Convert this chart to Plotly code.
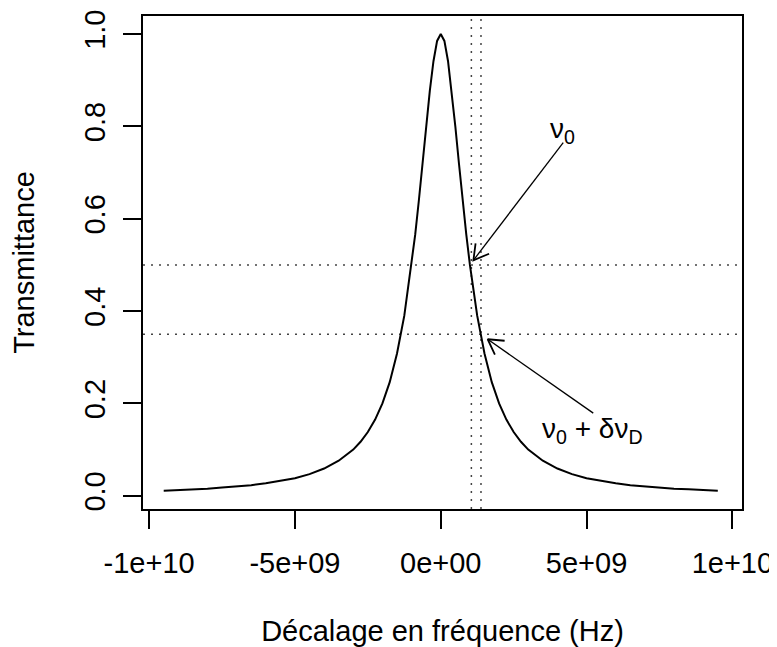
import math
import plotly.graph_objects as go

# ---- data (frequency offset in GHz, transmittance) ----
freq_offset_ghz = [-9.5, -9.0, -8.5, -8.0, -7.5, -7.0, -6.5, -6.0, -5.5, -5.0,
                   -4.5, -4.0, -3.5, -3.0, -2.75, -2.5, -2.25, -2.0, -1.75, -1.5,
                   -1.25, -1.0, -0.875, -0.75, -0.625, -0.5, -0.375, -0.25, -0.125, 0.0,
                   0.125, 0.25, 0.375, 0.5, 0.625, 0.75, 0.875, 1.0, 1.25, 1.5,
                   1.75, 2.0, 2.25, 2.5, 2.75, 3.0, 3.5, 4.0, 4.5, 5.0,
                   5.5, 6.0, 6.5, 7.0, 7.5, 8.0, 8.5, 9.0, 9.5]
transmittance = [0.011, 0.012, 0.014, 0.015, 0.018, 0.020, 0.023, 0.027, 0.032, 0.038,
                 0.047, 0.059, 0.076, 0.100, 0.117, 0.138, 0.165, 0.200, 0.246, 0.308,
                 0.390, 0.500, 0.566, 0.640, 0.719, 0.800, 0.877, 0.941, 0.985, 1.000,
                 0.985, 0.941, 0.877, 0.800, 0.719, 0.640, 0.566, 0.500, 0.390, 0.308,
                 0.246, 0.200, 0.165, 0.138, 0.117, 0.100, 0.076, 0.059, 0.047, 0.038,
                 0.032, 0.027, 0.023, 0.020, 0.018, 0.015, 0.014, 0.012, 0.011]

h_levels = [0.5, 0.35]
v_levels = [1.05e9, 1.38e9]

x_tickvals = [-1e10, -5e9, 0, 5e9, 1e10]
x_ticktext = ["-1e+10", "-5e+09", "0e+00", "5e+09", "1e+10"]
y_tickvals = [0.0, 0.2, 0.4, 0.6, 0.8, 1.0]
y_ticktext = ["0.0", "0.2", "0.4", "0.6", "0.8", "1.0"]

# arrows: (start x, start y, tip x, tip y)
arrows = [(4.2e9, 0.765, 1.12e9, 0.51),
          (5.23e9, 0.179, 1.61e9, 0.339)]
labels = [(4.19e9, 0.79, "ν<sub>0</sub>"),
          (5.19e9, 0.142, "ν<sub>0</sub> + δν<sub>D</sub>")]

# ---- layout geometry (page body adds an 8px offset) ----
W, H = 769, 639
ML, MR, MT, MB = 135, 35, 8, 138
xr = [-10.21e9, 10.33e9]
yr = [-0.0286, 1.039]
sx = (W - ML - MR) / (xr[1] - xr[0])
sy = (H - MT - MB) / (yr[1] - yr[0])

FONT = "Liberation Sans, Arial, sans-serif"
FS = 29

x_hz = [v * 1e9 for v in freq_offset_ghz]

fig = go.Figure()

dot = dict(color="#444", width=1.5, dash="2px,6px")
for lv in h_levels:
    fig.add_trace(go.Scatter(x=[xr[0], xr[1]], y=[lv, lv], mode="lines",
                             line=dot, hoverinfo="skip", showlegend=False))
for lv in v_levels:
    fig.add_trace(go.Scatter(x=[lv, lv], y=[yr[0], yr[1]], mode="lines",
                             line=dot, hoverinfo="skip", showlegend=False))

fig.add_trace(go.Scatter(x=x_hz, y=transmittance, mode="lines",
                         line=dict(color="black", width=2), showlegend=False))

# arrows with open V heads (R style)
HEAD = 17
ANG = math.radians(30)
for x0, y0, x1, y1 in arrows:
    fig.add_trace(go.Scatter(x=[x0, x1], y=[y0, y1], mode="lines",
                             line=dict(color="black", width=1.3), showlegend=False))
    dxp = (x0 - x1) * sx
    dyp = (y0 - y1) * sy
    n = math.hypot(dxp, dyp)
    ux, uy = dxp / n, dyp / n
    wings = []
    for a in (ANG, -ANG):
        rx = ux * math.cos(a) - uy * math.sin(a)
        ry = ux * math.sin(a) + uy * math.cos(a)
        wings.append((x1 + HEAD * rx / sx, y1 + HEAD * ry / sy))
    fig.add_trace(go.Scatter(x=[wings[0][0], x1, wings[1][0]],
                             y=[wings[0][1], y1, wings[1][1]], mode="lines",
                             line=dict(color="black", width=1.8), showlegend=False))

for lx, ly, txt in labels:
    fig.add_annotation(x=lx, y=ly, text=txt, showarrow=False,
                       font=dict(family=FONT, size=28, color="black"),
                       xanchor="center", yanchor="middle")

axis_common = dict(showline=True, linecolor="black", linewidth=1.8, mirror=True,
                   ticks="outside", ticklen=18, tickwidth=1.8, tickcolor="black",
                   showgrid=False, zeroline=False,
                   tickfont=dict(family=FONT, size=FS, color="black"))

fig.update_layout(
    width=W, height=H,
    margin=dict(l=ML, r=MR, t=MT, b=MB, autoexpand=False),
    paper_bgcolor="white", plot_bgcolor="white",
    xaxis=dict(range=xr, tickvals=x_tickvals, ticktext=x_ticktext,
               ticklabelstandoff=9,
               title=dict(text="Décalage en fréquence (Hz)",
                          font=dict(family=FONT, size=FS, color="black"), standoff=52),
               **axis_common),
    yaxis=dict(range=yr, tickvals=y_tickvals, ticktext=y_ticktext, tickangle=-90,
               ticklabelstandoff=7,
               title=dict(text="Transmittance",
                          font=dict(family=FONT, size=FS, color="black"), standoff=36),
               **axis_common),
)

fig.write_html("out.html")
